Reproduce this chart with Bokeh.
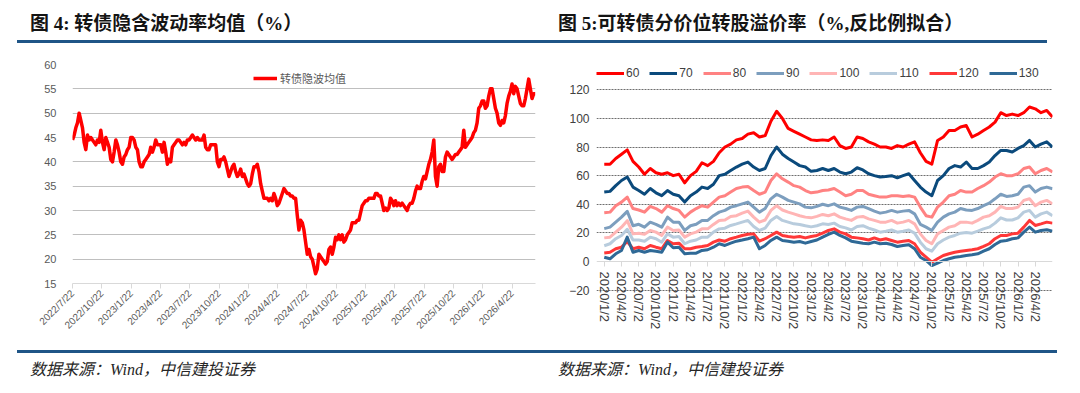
import numpy as np
from bokeh.plotting import figure
from bokeh.models import ColumnDataSource, FixedTicker, Legend, LegendItem, Div, Range1d
from bokeh.layouts import row, column
from bokeh.embed import file_html
from bokeh.resources import INLINE

# ---------------- Left chart data: 转债隐含波动率均值 ----------------
vol_tick_labels = ["2022/7/22", "2022/10/22", "2023/1/22", "2023/4/22", "2023/7/22",
                   "2023/10/22", "2024/1/22", "2024/4/22", "2024/7/22", "2024/10/22",
                   "2025/1/22", "2025/4/22", "2025/7/22", "2025/10/22", "2026/1/22",
                   "2026/4/22"]
vol_yticks = [15, 20, 25, 30, 35, 40, 45, 50, 55, 60]
VOL_SAMPLES_PER_QUARTER = 17.6   # evenly spaced observations per quarter
vol_mean = [
    44.5, 45.5, 47, 48, 50, 48.5, 47, 44, 42.5, 45.5,
    44.5, 45, 44.5, 44, 43.5, 44.5, 44, 46.5, 44, 42.5,
    45, 44, 43, 40.5, 40, 42, 44.5, 43.5, 42, 40,
    39.5, 41, 41.5, 42.5, 43, 45, 45, 44.5, 43, 42.5,
    40, 39, 39, 40, 40.5, 41, 41.5, 43, 42, 43,
    44.5, 43.5, 43.5, 43.5, 42, 44, 42, 39.5, 40.5, 40,
    43, 43.5, 44, 44.5, 44.5, 44, 43.5, 44, 43.5, 44.5,
    44.5, 45, 45.5, 45, 44.5, 45, 44.5, 44.5, 44.5, 45.5,
    43, 42.5, 42.5, 43.5, 43.5, 43.5, 43.5, 40, 39, 40.5,
    40.5, 41, 40, 38.5, 37, 38, 39, 39.5, 38, 37,
    37.5, 38.5, 37, 37.5, 36.5, 35.5, 35, 35.5, 37.5, 39,
    39, 39.5, 38, 35.5, 34, 32.5, 32.5, 32.5, 32, 32.5,
    32, 33.5, 32.5, 31, 31.5, 32.5, 33.5, 34.5, 34, 33.5,
    33.5, 33, 33, 32.5, 32.5, 29, 26, 28, 27.5, 26,
    23.5, 21, 22, 20.5, 20, 18.5, 17, 18, 21, 20.5,
    20, 19.5, 19, 19.5, 22, 22.5, 21, 22.5, 24.5, 24,
    25, 24, 25, 23.5, 24, 25, 25.5, 26, 27.5, 27.5,
    27.5, 28, 28, 29.5, 31, 31.5, 32, 32, 32.5, 32.5,
    32.5, 32.5, 33.5, 33.5, 33, 33, 31.5, 30, 30.5, 30,
    30.5, 32.5, 32, 31, 32, 31, 31.5, 31, 31.5, 31,
    30.5, 30, 31, 31.5, 31.5, 32.5, 34, 35, 34.5, 34.5,
    36, 37, 36.5, 38, 39.5, 40.5, 42, 44.5, 37, 35,
    39, 39.5, 38, 38, 41, 42, 41.5, 41, 40.5, 41,
    41.5, 41.5, 42, 42.5, 43, 46.5, 43, 43.5, 44, 44.5,
    45, 46, 46.5, 48, 51, 51.5, 52.5, 52.5, 51, 51.5,
    53.5, 55, 55, 53, 51, 50, 48, 47.5, 48.5, 48,
    49.5, 52, 53.5, 54.5, 56, 54, 55.5, 55, 53.5, 52,
    51.5, 51.5, 53, 55, 57, 55, 53, 54, 54,
]

# ---------------- Right chart data: 分价位转股溢价率 ----------------
prem_tick_labels = ["2020/1/2", "2020/4/2", "2020/7/2", "2020/10/2", "2021/1/2", "2021/4/2",
                    "2021/7/2", "2021/10/2", "2022/1/2", "2022/4/2", "2022/7/2", "2022/10/2",
                    "2023/1/2", "2023/4/2", "2023/7/2", "2023/10/2", "2024/1/2", "2024/4/2",
                    "2024/7/2", "2024/10/2", "2025/1/2", "2025/4/2", "2025/7/2", "2025/10/2",
                    "2026/1/2", "2026/4/2"]
prem_yticks = [-20, 0, 20, 40, 60, 80, 100, 120]
PREM_SAMPLES_PER_QUARTER = 3
prem_names = ["60", "70", "80", "90", "100", "110", "120", "130"]
prem_colors = ["#FF0000", "#0B4A7C", "#FF8282", "#7C9EBE", "#FFB5B5", "#B8CCDD", "#FF3838", "#2F6996"]

prem_60 = [68, 68, 72, 75, 78, 70, 66, 61, 65, 62, 61, 62, 60, 61, 55, 60, 63, 69, 67, 70,
           76, 80, 82, 85, 86, 89, 90, 87, 88, 98, 105, 100, 93, 91, 89, 87, 85,
           84.6, 85, 84.6, 87, 81, 79, 80, 87, 86, 83.6, 82, 80, 80, 79, 81, 80, 82, 83.6,
           76, 70, 68, 84.6, 87, 91.6, 91.6, 94, 95, 87, 89, 91.6, 94, 97.4, 104, 102, 103,
           102, 104, 108, 106.7, 104, 105.6, 101]
prem_70 = [48.5, 49, 53, 56.6, 59, 52, 49.6, 47, 51, 48, 46, 49.6, 47, 46, 41.5, 46, 48.5, 52,
           51, 54, 60, 61, 63.6, 66, 68, 69.5, 66, 63.6, 65, 74, 80, 75, 72, 69.5, 67, 66, 63,
           63.6, 65, 63.6, 65, 62.5, 61.3, 62.5, 65.5, 64, 61.3, 60, 59, 59.4, 60, 58.5, 60,
           61.3, 56.6, 52, 48.5, 46, 56.6, 60, 65, 67, 66, 69.5, 65, 65, 67, 69.5, 74, 77.6,
           77.6, 76.5, 79, 81, 84.6, 80, 82, 83.6, 80]
prem_80 = [34, 34.5, 39, 41.5, 45, 37, 36, 34.5, 38.5, 37, 34.5, 39, 37, 35.7, 31, 34.5, 37, 39,
           38, 41.5, 45, 46, 48.5, 51, 52, 52.4, 49.6, 47, 48.5, 56.6, 61.3, 57.8, 55.5, 53, 52,
           49.6, 48,
           48.5, 49.6, 50, 51, 48.5, 46, 47, 49.6, 49.6, 47, 46, 45, 45, 46, 46, 45.5, 46, 45,
           38, 32, 31, 38, 41.5, 46, 47, 49.6, 48.5, 48.5, 51, 53, 55.5, 59, 61.3, 60, 60, 61.3,
           65, 66, 61.3, 63.6, 65, 62.5]
prem_90 = [23, 24, 27.5, 31, 35, 25, 26, 24, 27.5, 26, 24, 31, 27.5, 27.5, 21.7, 25, 26, 28.7,
           28.7, 32, 34.5, 35.7, 38, 39, 40.3, 41.5, 38, 34.5, 37, 43.8, 47, 45, 42.7, 41.5,
           40.3, 38, 37.5,
           38.5, 40, 39, 40.3, 38, 37, 35.7, 38, 38.5, 37, 35.2, 33.8, 34.5, 35.7, 34.5, 35.2,
           35.7, 33.3, 26, 24, 21.7, 27.5, 31, 33.3, 34.5, 37, 36, 35.7, 37, 39, 40.8, 43.8, 47,
           45.5, 46, 47, 52, 53, 48.5, 51, 52, 50.8]
prem_100 = [16.5, 17, 20.5, 24, 28.5, 19.3, 19.8, 19, 21.7, 20.5, 18.2, 24, 21.7, 22, 17, 19.3,
            20.5, 22.8, 22.8, 25.9, 28.7, 29, 31.5, 32, 33.8, 35.2, 31, 27.5, 29, 35.7, 39, 36,
            34.5, 33.3, 32, 31, 30.5,
            31.5, 32.9, 32, 33.3, 31, 29.8, 28.7, 31, 31.5, 29.8, 28.7, 27.5, 27.5, 28.7, 26.8,
            27.5, 28.7, 26.3, 19.3, 14.7, 12.4, 19.3, 21.7, 24, 25, 27.5, 27.5, 26.8, 28.7, 31,
            32, 34.5, 38.5, 37, 37, 38, 42.7, 43.8, 39, 41.5, 42.7, 40.3]
prem_110 = [11, 12.4, 15.9, 18.2, 22.5, 15, 15, 14.2, 17, 15.9, 13.5, 19.3, 17, 17.5, 12.4,
            14.2, 15, 17, 17, 20.5, 22.8, 23.3, 25.2, 26.3, 27.5, 28.7, 24.5, 21.7, 23.3, 28.7,
            31.5, 28.7, 27.5, 26.3, 25.9, 25, 24.2,
            25, 26.3, 25.9, 26.8, 24.5, 23.5, 22, 24.5, 25, 23.3, 22, 20.5, 21.2, 22, 20.5, 21.2,
            22, 19.8, 13.5, 8.9, 7.2, 12.4, 15, 17, 18.2, 19.8, 20.3, 19.8, 21.2, 22.8, 24, 26.8,
            30.5, 29, 29, 30.5, 34.5, 35.7, 31, 33.3, 34.5, 32]
prem_120 = [6, 6.5, 8.9, 10, 14, 8.9, 10, 8.9, 11.2, 10, 8.9, 14.7, 12.4, 12.8, 8.9, 8.9, 10,
            10.5, 11.2, 13.5, 15, 14.2, 15.9, 17, 18.2, 19, 19.3, 14.2, 15.9, 18.2, 20.5, 18.2,
            17.5, 17, 17.5, 16.5, 17.5,
            18.2, 19.8, 21.7, 22.8, 20.5, 19.3, 17, 16.5, 15.9, 15, 16.5, 15, 15.9, 14.7, 13.5,
            14.2, 14.7, 12.4, 6.5, 3, -0.5, 1.9, 4.2, 5.4, 6.5, 7.2, 7.7, 8.2, 8.9, 10.5, 12.4,
            15.9, 18.2, 18.2, 19.3, 19.8, 24, 28.7, 25.2, 26.3, 27.5, 26.8]
prem_130 = [3, 1.9, 5.4, 7.7, 17, 6.5, 7.7, 6.5, 7.7, 7.2, 6.5, 13.5, 9.6, 10, 5.4, 5.8, 5.8,
            7.7, 8.2, 10, 12.4, 11.2, 12.8, 14.2, 15, 15.9, 17, 8.9, 11.2, 14.7, 17, 14.7, 14.2,
            13.5, 14, 12.8, 14,
            15, 17, 19, 20.5, 18.2, 16.5, 14.2, 13.5, 12.8, 12.4, 13.5, 12.4, 12.8, 11.9, 10.5,
            11.2, 11.7, 8.9, 3, 0.7, -2.8, -1.2, 0.7, 1.9, 3, 3.5, 4.2, 4.7, 5.4, 7.2, 8.9,
            11.9, 14.2, 14.7, 15.9, 16.5, 20.5, 24, 20.5, 21.7, 22.2, 21.2]
prem_series = [prem_60, prem_70, prem_80, prem_90, prem_100, prem_110, prem_120, prem_130]

NUM_FONT = "Liberation Sans"
CJK_FONT = "Noto Sans CJK SC"
RULE = "#1F5587"


def base_fig(x_range, y_range, fw, fh, bl, br, bt, bb):
    p = figure(frame_width=fw, frame_height=fh, x_range=x_range, y_range=y_range,
               output_backend="svg", toolbar_location=None, title=None,
               min_border_left=bl, min_border_right=br, min_border_top=bt, min_border_bottom=bb)
    p.outline_line_color = None
    p.background_fill_color = "white"
    p.border_fill_color = "white"
    p.margin = (0, 0, 0, 0)
    return p


# ---------------- Left figure ----------------
p1 = base_fig(Range1d(0, 15.8), Range1d(15, 60), 463, 219, 72, 5, 21, 62)
vx = np.arange(len(vol_mean)) / VOL_SAMPLES_PER_QUARTER
src1 = ColumnDataSource(dict(x=vx, y=vol_mean))
r1 = p1.line("x", "y", source=src1, line_color="#FF0000", line_width=3.5, line_join="round")

p1.yaxis.ticker = FixedTicker(ticks=vol_yticks)
p1.ygrid.ticker = FixedTicker(ticks=vol_yticks[1:])
p1.ygrid.grid_line_color = "#BFBFBF"
p1.xgrid.visible = False
p1.yaxis.axis_line_color = None
p1.yaxis.major_tick_line_color = None
p1.yaxis.minor_tick_line_color = None
p1.yaxis.major_label_standoff = 10
p1.yaxis.major_label_text_font = NUM_FONT
p1.yaxis.major_label_text_font_size = "11px"
p1.yaxis.major_label_text_color = "#595959"

p1.xaxis.ticker = FixedTicker(ticks=list(range(len(vol_tick_labels))))
p1.xaxis.major_label_overrides = {i: lab for i, lab in enumerate(vol_tick_labels)}
p1.xaxis.major_label_orientation = 0.785
p1.xaxis.axis_line_color = "#D9D9D9"
p1.xaxis.major_tick_line_color = "#D9D9D9"
p1.xaxis.major_tick_in = 0
p1.xaxis.major_tick_out = 5
p1.xaxis.minor_tick_line_color = None
p1.xaxis.major_label_standoff = 3
p1.xaxis.major_label_text_font = NUM_FONT
p1.xaxis.major_label_text_font_size = "10px"
p1.xaxis.major_label_text_color = "#595959"

leg1 = Legend(items=[LegendItem(label="转债隐波均值", renderers=[r1])],
              location=(181, 197), orientation="horizontal",
              glyph_width=24, glyph_height=14, label_height=14, label_width=0, label_standoff=3,
              padding=0, margin=0, spacing=0,
              label_text_font=CJK_FONT, label_text_font_size="11px",
              label_text_color="#595959",
              border_line_color=None, background_fill_alpha=0)
p1.add_layout(leg1)

# ---------------- Right figure ----------------
# frame extends above 120 (room for the legend), below -20 (room for the date labels)
# and a little left of the first date (so the first label is not clipped)
p2 = base_fig(Range1d(-0.45, 26), Range1d(-57.32, 137.68), 456, 279, 56, 28, 21, 2)
px = np.arange(len(prem_60)) / PREM_SAMPLES_PER_QUARTER
items = []
for name, col, vals in zip(prem_names, prem_colors, prem_series):
    s = ColumnDataSource(dict(x=px, y=vals))
    r = p2.line("x", "y", source=s, line_color=col, line_width=3, line_join="round")
    items.append(LegendItem(label=name, renderers=[r]))

p2.yaxis.ticker = FixedTicker(ticks=prem_yticks)
p2.ygrid.ticker = FixedTicker(ticks=[t for t in prem_yticks if t != 0])
p2.ygrid.grid_line_color = "#6E6E6E"
p2.ygrid.grid_line_dash = "2 1"
p2.xgrid.visible = False
p2.yaxis.axis_line_color = None
p2.yaxis.major_tick_line_color = None
p2.yaxis.minor_tick_line_color = None
p2.yaxis.major_label_standoff = 1
p2.yaxis.major_label_text_font = NUM_FONT
p2.yaxis.major_label_text_font_size = "12px"
p2.yaxis.major_label_text_color = "#404040"

p2.xaxis.fixed_location = 0
p2.xaxis.ticker = FixedTicker(ticks=list(range(len(prem_tick_labels))))
p2.xaxis.major_label_overrides = {i: lab for i, lab in enumerate(prem_tick_labels)}
p2.xaxis.major_label_orientation = "vertical"
p2.xaxis.axis_line_color = "#D9D9D9"
p2.xaxis.major_tick_line_color = "#D9D9D9"
p2.xaxis.major_tick_in = 0
p2.xaxis.major_tick_out = 5
p2.xaxis.minor_tick_line_color = None
p2.xaxis.major_label_standoff = 5
p2.xaxis.major_label_text_font = NUM_FONT
p2.xaxis.major_label_text_font_size = "13px"
p2.xaxis.major_label_text_color = "#404040"

leg2 = Legend(items=items, location=(0, 263), orientation="horizontal",
              glyph_width=28, glyph_height=14, label_height=14, label_width=0, label_standoff=2,
              padding=0, margin=0, spacing=10,
              label_text_font=NUM_FONT, label_text_font_size="12px",
              label_text_color="#404040",
              border_line_color=None, background_fill_alpha=0)
p2.add_layout(leg2)

# ---------------- Titles, rules, footers ----------------
TITLE_FONT = "font-family:'Liberation Serif','Noto Sans CJK SC';font-weight:bold;font-size:19px;line-height:26px;color:#141414;white-space:nowrap;"
FOOT_FONT = "font-family:'Liberation Serif','Noto Sans CJK SC';font-style:italic;font-size:16px;line-height:22px;color:#262626;white-space:nowrap;"


def head(text, tx, rx, rw):
    html = (f'<div style="position:relative;width:540px;height:43px;">'
            f'<div style="position:absolute;left:{tx}px;top:11px;{TITLE_FONT}">{text}</div>'
            f'<div style="position:absolute;left:{rx}px;top:40px;width:{rw}px;height:3px;background:{RULE};"></div>'
            f'</div>')
    return Div(text=html, width=540, height=43, margin=(0, 0, 0, 0))


def foot(text, tx, rx, rw):
    html = (f'<div style="position:relative;width:540px;height:48px;">'
            f'<div style="position:absolute;left:{rx}px;top:5px;width:{rw}px;height:3px;background:{RULE};"></div>'
            f'<div style="position:absolute;left:{tx}px;top:14px;{FOOT_FONT}">{text}</div>'
            f'</div>')
    return Div(text=html, width=540, height=48, margin=(0, 0, 0, 0))


h1 = head("图 4:&nbsp;转债隐含波动率均值（%）", 30, 17, 523)
h2 = head("图 5:可转债分价位转股溢价率（%,反比例拟合）", 18, 0, 507)
f1 = foot("数据来源：Wind，中信建投证券", 30, 17, 523)
f2 = foot("数据来源：Wind，中信建投证券", 18, 0, 517)

layout = row(column(h1, p1, f1, spacing=0), column(h2, p2, f2, spacing=0), spacing=0)

open("out.html", "w").write(file_html(layout, INLINE))
